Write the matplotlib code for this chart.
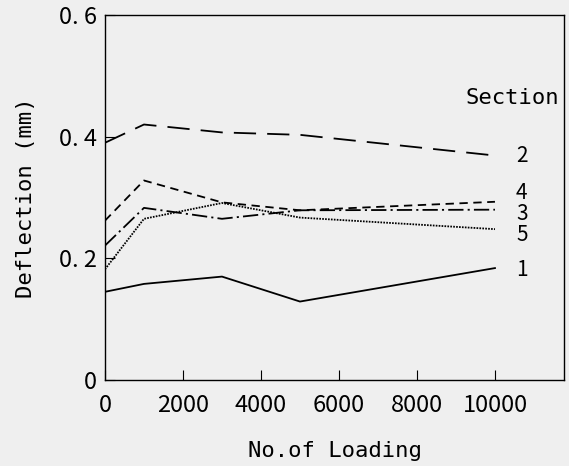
import matplotlib
matplotlib.use("Agg")
import matplotlib.pyplot as plt

plt.rcParams['lines.scale_dashes'] = False
plt.rcParams['font.family'] = ['DejaVu Sans Mono']

loads = [0, 1000, 3000, 5000, 10000]
sec1 = [0.145, 0.158, 0.170, 0.129, 0.184]
sec2 = [0.390, 0.420, 0.407, 0.403, 0.369]
sec3 = [0.221, 0.283, 0.265, 0.279, 0.280]
sec4 = [0.262, 0.328, 0.292, 0.279, 0.293]
sec5 = [0.182, 0.265, 0.291, 0.267, 0.248]
section_names = ["1", "2", "3", "4", "5"]
xticks = [0, 2000, 4000, 6000, 8000, 10000]
yticks = [0, 0.2, 0.4, 0.6]
ytick_labels = ["0", "0. 2", "0. 4", "0. 6"]

bg = '#efefef'
digit_font = ['Noto Sans CJK JP', 'DejaVu Sans']
fig = plt.figure(figsize=(5.69, 4.66), dpi=100, facecolor=bg)
ax = fig.add_axes([0.1845, 0.1845, 0.8067, 0.7833], facecolor=bg)

lw = 1.3
ax.plot(loads, sec1, color='black', lw=lw, solid_joinstyle='miter')
ax.plot(loads, sec2, color='black', lw=lw, dashes=(16, 8))
ax.plot(loads, sec3, color='black', lw=lw, dashes=(11, 3, 1.5, 3))
ax.plot(loads, sec4, color='black', lw=lw, dashes=(6, 4))
ax.plot(loads, sec5, color='black', lw=lw, dashes=(1.2, 0.9))

ax.set_xlim(0, 11770)
ax.set_ylim(0, 0.6)
ax.set_xticks(xticks)
ax.set_xticklabels([str(v) for v in xticks], family=digit_font, fontsize=17)
ax.set_yticks(yticks)
ax.set_yticklabels(ytick_labels, family=digit_font, fontsize=17)
ax.tick_params(direction='in', length=7, width=0.8, pad=6)
ax.tick_params(axis='x', pad=10)
for s in ax.spines.values():
    s.set_linewidth(1.0)

ax.set_xlabel("No.of Loading", fontsize=16, labelpad=17)
ax.set_ylabel("Deflection (mm)", fontsize=16, labelpad=16)

ax.text(10440, 0.464, "Section", fontsize=16, ha='center', va='center')
label_y = {"2": 0.369, "4": 0.3066, "3": 0.2721, "5": 0.2377, "1": 0.181}
for name in section_names:
    ax.text(10690, label_y[name], name, fontsize=15, family=digit_font,
            ha='center', va='center')

fig.savefig("out.png", dpi=100, facecolor=bg)
